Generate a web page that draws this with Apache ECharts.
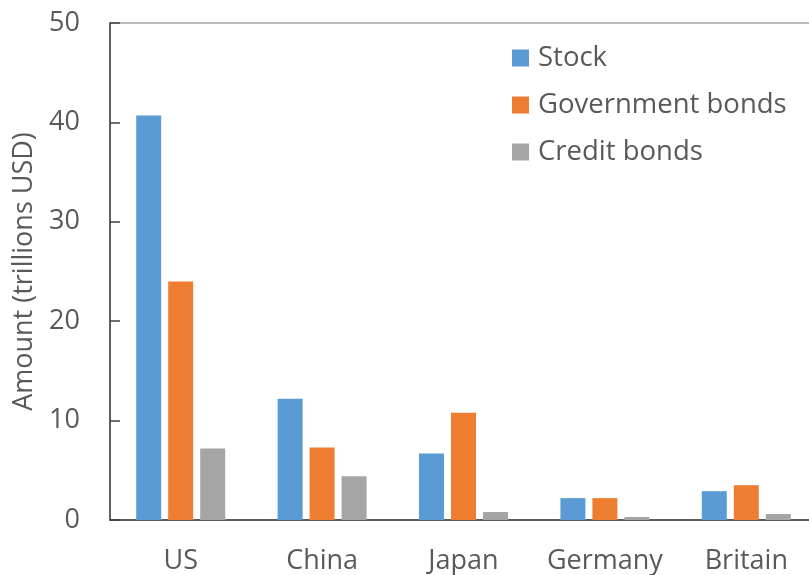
<!DOCTYPE html>
<html>
<head>
<meta charset="utf-8">
<script src="https://cdn.jsdelivr.net/npm/echarts@6/dist/echarts.min.js"></script>
<style>
  html, body { margin: 0; padding: 0; background: #fff; }
  #chart { width: 809px; height: 575px; }
</style>
</head>
<body>
<div id="chart"></div>
<script>
const countries = ['US', 'China', 'Japan', 'Germany', 'Britain']
const stock = [40.7, 12.2, 6.7, 2.2, 2.9]
const govBonds = [24.0, 7.3, 10.8, 2.2, 3.5]
const creditBonds = [7.2, 4.4, 0.8, 0.3, 0.6]

const textColor = '#595959'
const fontFamily = '"Open Sans", "Noto Sans", sans-serif'

const chart = echarts.init(document.getElementById('chart'))

const barSeries = (name, data, color) => ({
  name: name,
  type: 'bar',
  data: data,
  barWidth: 25,
  barGap: '28%',
  itemStyle: { color: color },
  animation: false
})

chart.setOption({
  textStyle: { fontFamily: fontFamily, color: textColor },
  grid: {
    left: 110,
    top: 23,
    width: 707,
    height: 497,
    outerBoundsMode: 'none',
    show: true,
    borderColor: '#a6a6a6',
    borderWidth: 1.5
  },
  legend: {
    orient: 'vertical',
    left: 507,
    top: 39,
    itemWidth: 17,
    itemHeight: 17,
    itemGap: 19,
    icon: 'rect',
    textStyle: { fontSize: 27.5, color: textColor, fontFamily: fontFamily, padding: [0, 0, 0, 4] },
    data: ['Stock', 'Government bonds', 'Credit bonds']
  },
  xAxis: {
    type: 'category',
    data: countries,
    axisLine: { lineStyle: { color: '#404040', width: 1.5 } },
    axisTick: { show: false },
    axisLabel: { fontSize: 27, color: textColor, margin: 28, interval: 0 }
  },
  yAxis: {
    type: 'value',
    min: 0,
    max: 50,
    interval: 10,
    name: 'Amount (trillions USD)',
    nameLocation: 'middle',
    nameGap: 67,
    nameTextStyle: { fontSize: 27, color: textColor },
    axisLine: { show: true, lineStyle: { color: '#404040', width: 1.5 } },
    axisTick: { show: true, inside: true, length: 10, lineStyle: { color: '#404040', width: 1.5 } },
    axisLabel: { fontSize: 27, color: textColor, margin: 30 },
    splitLine: { show: false }
  },
  series: [
    barSeries('Stock', stock, '#5b9bd5'),
    barSeries('Government bonds', govBonds, '#ed7d31'),
    barSeries('Credit bonds', creditBonds, '#a5a5a5')
  ]
})
</script>
</body>
</html>
